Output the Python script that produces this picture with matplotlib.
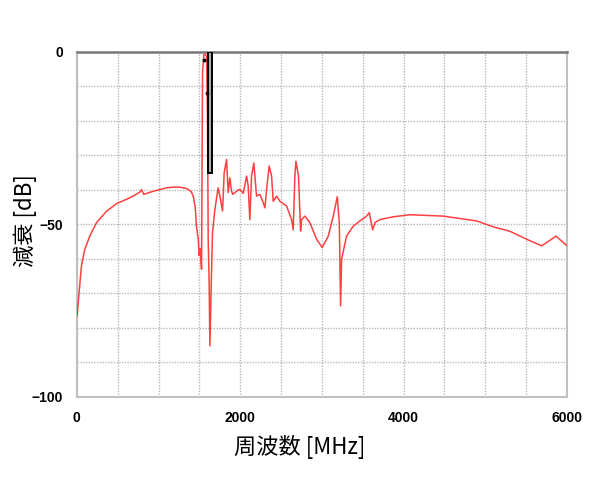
import numpy as np
import matplotlib
matplotlib.use("Agg")
import matplotlib.pyplot as plt
from matplotlib.patches import Rectangle

plt.rcParams['font.family'] = ['Noto Sans CJK JP', 'DejaVu Sans']

# frequency response
freq_mhz = [4, 28, 57, 98, 159, 241, 363, 486, 649, 771, 792, 820, 935,
            1098, 1180, 1260, 1343, 1400, 1425, 1450, 1465, 1486, 1498,
            1510, 1527, 1539, 1555, 1567, 1588, 1600, 1608, 1620, 1629, 1649,
            1661, 1690, 1730, 1751, 1784, 1804, 1833, 1853, 1873, 1894, 1910,
            1976, 1996, 2037, 2078, 2098, 2118, 2139, 2167, 2200, 2241, 2282,
            2302, 2331, 2355, 2384, 2404, 2445, 2486, 2568, 2629, 2649, 2669,
            2682, 2714, 2739, 2751, 2792, 2853, 2935, 3004, 3078, 3139, 3188,
            3213, 3229, 3241, 3302, 3384, 3465, 3539, 3580, 3621, 3649, 3710,
            3873, 4078, 4282, 4486, 4690, 4894, 5098, 5302, 5506, 5690, 5792,
            5865, 5996]
atten_db = [-76.5, -69.7, -62.0, -57.2, -53.4, -49.5, -46.2, -44.0, -42.3,
            -40.7, -39.9, -41.3, -40.4, -39.4, -39.2, -39.2, -39.6,
            -40.5, -41.8, -45.0, -50.5, -54.3, -59.0, -57.0, -63.0, -6.0,
            -0.9, -0.6, -1.2, -20.0, -54.0, -66.8, -85.2, -64.0, -52.4, -45.7,
            -39.4, -41.8, -46.1, -35.0, -31.2, -40.8, -36.5, -40.4, -41.3,
            -40.0, -39.9, -41.0, -36.0, -38.9, -48.6, -36.0, -32.2, -41.8,
            -41.3, -43.7, -45.2, -38.0, -33.1, -36.0, -43.3, -41.8, -43.3,
            -44.7, -48.6, -51.6, -36.0, -31.7, -36.0, -51.9, -48.6, -47.6,
            -49.5, -54.3, -56.7, -53.4, -47.6, -42.0, -49.5, -73.6, -60.1,
            -53.4, -50.5, -49.0, -47.8, -46.6, -51.6, -49.5, -48.6, -47.8,
            -47.2, -47.4, -47.6, -48.3, -49.0, -50.7, -52.0, -54.3, -56.2,
            -54.6, -53.4, -56.1]

# black mask box and marker dots
mask_lo, mask_hi, mask_floor = 1605, 1650, -35
marker_f = [1559, 1595]
marker_db = [-2.5, -11.9]

fig = plt.figure(figsize=(6, 4.8), dpi=100)
ax = fig.add_axes([0.128, 0.173, 0.817, 0.719])

ax.plot(freq_mhz, atten_db, color='#ff4040', lw=1.1, zorder=3)
ax.add_patch(Rectangle((mask_lo, mask_floor), mask_hi - mask_lo, -mask_floor,
                       facecolor='#b0b0b0', edgecolor='black', lw=1.4, zorder=4))
ax.plot(marker_f, marker_db, 'o', color='black', ms=1.8, zorder=5)

ax.set_xlim(0, 6000)
ax.set_ylim(-100, 0)
ax.set_xticks([0, 2000, 4000, 6000])
ax.set_yticks([0, -50, -100])
ax.set_xticks(np.arange(0, 6001, 500), minor=True)
ax.set_yticks(np.arange(-100, 1, 10), minor=True)
ax.grid(which='both', color='#b8b8b8', ls=(0, (1, 1)), lw=1.0)
ax.tick_params(which='both', length=0)
ax.tick_params(axis='x', pad=10)
ax.tick_params(axis='y', pad=10)
for lab in ax.get_xticklabels() + ax.get_yticklabels():
    lab.set_fontweight('bold')
    lab.set_fontsize(10)
    lab.set_family(['Liberation Sans', 'DejaVu Sans'])

for s in ['left', 'right', 'bottom']:
    ax.spines[s].set_color('#c0c0c0')
    ax.spines[s].set_linewidth(1.5)
ax.spines['top'].set_color('#777777')
ax.spines['top'].set_linewidth(1.8)

ax.set_xlabel('周波数 [MHz]', fontsize=16)
ax.set_ylabel('減衰 [dB]', fontsize=16)
# labels sit centred on the figure rather than on the axes
ax.xaxis.set_label_coords(0.455, -0.11)
ax.yaxis.set_label_coords(-0.082, 0.51)

fig.savefig('out.png', dpi=100)
